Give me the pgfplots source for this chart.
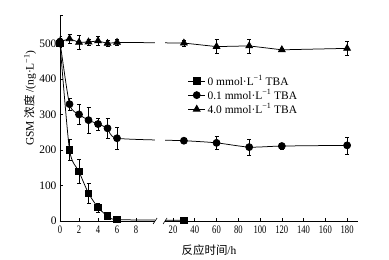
\documentclass[border=0pt]{standalone}
\usepackage{fontspec}
\setmainfont{Liberation Serif}
\newfontfamily\cjk{Noto Sans CJK SC}
\usepackage{pgfplots}
\pgfplotsset{compat=1.18}
\begin{document}
\begin{tikzpicture}[font=\fontsize{11.5}{13}\selectfont]
\begin{axis}[
  scale only axis, width=298bp, height=206bp,
  axis x line=bottom, axis y line=left,
  axis line style={-, line width=0.7bp},
  tick align=inside, major tick length=3bp,
  tick style={line width=0.6bp, black},
  /pgf/number format/assume math mode=true,
  x coord trafo/.code={\pgfmathparse{ifthenelse(#1<=10.5,#1,11.89+(#1-20)*0.11447)}},
  x coord inv trafo/.code={\pgfmathparse{ifthenelse(#1<=10.5,#1,20+(#1-11.89)/0.11447)}},
  xmin=0, xmax=190, ymin=0, ymax=580,
  xtick={0,2,4,6,8,20,40,60,80,100,120,140,160,180},
  xticklabels={0,2,4,6,8,20,40,60,80,100,120,140,160,180},
  xticklabel style={xscale=0.75, yshift=-1.5bp},
  ytick={0,100,200,300,400,500},
  extra y ticks={580}, extra y tick labels={},
  xlabel={{\cjk 反应时间}/h},
  ylabel={GSM {\cjk 浓度} /(ng·L\textsuperscript{−1})},
  ylabel style={at={([shift={(-30bp,0)}]rel axis cs:0,0.597)}, anchor=center},
  xlabel style={yshift=-4bp},
  legend style={at={(rel axis cs:0.425,0.722)}, anchor=north west, draw=none, fill=none,
    row sep=-1bp, inner sep=1bp, cells={anchor=west}},
  legend cell align=left,
  every axis plot/.append style={line width=0.75bp, black},
  error bars/error mark options={rotate=90, mark size=2bp, line width=0.5bp},
]
\addplot[smooth, tension=0.4, mark=square*, mark size=3.2bp, mark options={solid},
  error bars/.cd, y dir=both, y explicit] coordinates {
  (0,500) +- (0,0)
  (1,200) +- (0,30)
  (2,139) +- (0,34)
  (3,78) +- (0,28)
  (4,38) +- (0,12)
  (5,14) +- (0,5)
  (6,4) +- (0,3)
  (30,2) +- (0,1)
};
\addlegendentry{0 mmol·L\textsuperscript{−1} TBA}
\addplot[smooth, tension=0.4, mark=*, mark size=3.5bp,
  error bars/.cd, y dir=both, y explicit] coordinates {
  (0,505) +- (0,10)
  (1,329) +- (0,17)
  (2,300) +- (0,29)
  (3,284) +- (0,36)
  (4,273) +- (0,17)
  (5,261) +- (0,28)
  (6,233) +- (0,30)
  (30,226) +- (0,8)
  (60,220) +- (0,19)
  (90,208) +- (0,23)
  (120,211) +- (0,8)
  (180,213) +- (0,24)
};
\addlegendentry{0.1 mmol·L\textsuperscript{−1} TBA}
\addplot[mark=triangle*, mark size=3.9bp,
  error bars/.cd, y dir=both, y explicit] coordinates {
  (0,505) +- (0,15)
  (1,513) +- (0,12)
  (2,503) +- (0,20)
  (3,504) +- (0,8)
  (4,507) +- (0,12)
  (5,500) +- (0,8)
  (6,503) +- (0,8)
  (30,501) +- (0,8)
  (60,491) +- (0,20)
  (90,493) +- (0,20)
  (120,482) +- (0,5)
  (180,486) +- (0,19)
};
\addlegendentry{4.0 mmol·L\textsuperscript{−1} TBA}
\coordinate (bA) at (rel axis cs:0.319,0);
\coordinate (bB) at (rel axis cs:0.3525,0);
\coordinate (bT) at (rel axis cs:0.3525,1);
\end{axis}
\fill[white] ([yshift=-1.5bp]bA) rectangle (bT);
\draw[line width=0.6bp] ([shift={(-2bp,-3bp)}]bA) -- ([shift={(2bp,3bp)}]bA);
\draw[line width=0.6bp] ([shift={(-2bp,-3bp)}]bB) -- ([shift={(2bp,3bp)}]bB);
\path ([shift={(-60bp,-39bp)}]current axis.south west) rectangle ([shift={(31bp,15bp)}]current axis.north east);
\end{tikzpicture}
\end{document}
